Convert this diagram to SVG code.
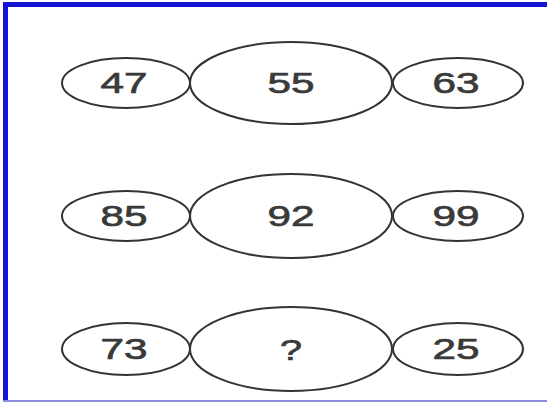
<svg xmlns="http://www.w3.org/2000/svg" width="547" height="402" viewBox="0 0 547 402">
<style>
.o{fill:none;stroke:#333;stroke-width:2}
.t{font-family:"Liberation Sans",Arial,sans-serif;font-size:30px;fill:#3a3a3a;stroke:#3a3a3a;stroke-width:0.7;text-anchor:middle}
</style>
<rect x="0" y="0" width="547" height="402" fill="#fff"/>
<g id="frame">
<rect x="3" y="2" width="544" height="5" fill="#1414d2"/>
<rect x="3" y="2" width="5" height="398" fill="#1414d2"/>
<rect x="3" y="400" width="544" height="2" fill="#8c8ce0"/>
</g>
<g id="connectors"></g>
<g id="n47"><ellipse class="o" cx="126" cy="83" rx="64" ry="25"/><text class="t" x="124" y="93" textLength="47" lengthAdjust="spacingAndGlyphs">47</text></g>
<g id="n55"><ellipse class="o" cx="291" cy="83" rx="101" ry="41"/><text class="t" x="291" y="93" textLength="47" lengthAdjust="spacingAndGlyphs">55</text></g>
<g id="n63"><ellipse class="o" cx="458" cy="83" rx="65" ry="25"/><text class="t" x="456" y="93" textLength="47" lengthAdjust="spacingAndGlyphs">63</text></g>
<g id="n85"><ellipse class="o" cx="126" cy="216" rx="64" ry="25"/><text class="t" x="124" y="226" textLength="47" lengthAdjust="spacingAndGlyphs">85</text></g>
<g id="n92"><ellipse class="o" cx="291" cy="216" rx="101" ry="42"/><text class="t" x="291" y="226" textLength="47" lengthAdjust="spacingAndGlyphs">92</text></g>
<g id="n99"><ellipse class="o" cx="458" cy="216" rx="65" ry="25"/><text class="t" x="456" y="226" textLength="47" lengthAdjust="spacingAndGlyphs">99</text></g>
<g id="n73"><ellipse class="o" cx="126" cy="349" rx="64" ry="26"/><text class="t" x="124" y="359" textLength="47" lengthAdjust="spacingAndGlyphs">73</text></g>
<g id="nq"><ellipse class="o" cx="291" cy="349" rx="101" ry="42"/><text class="t" x="291" y="360" textLength="22" lengthAdjust="spacingAndGlyphs">?</text></g>
<g id="n25"><ellipse class="o" cx="458" cy="349" rx="65" ry="26"/><text class="t" x="456" y="359" textLength="47" lengthAdjust="spacingAndGlyphs">25</text></g>
</svg>
